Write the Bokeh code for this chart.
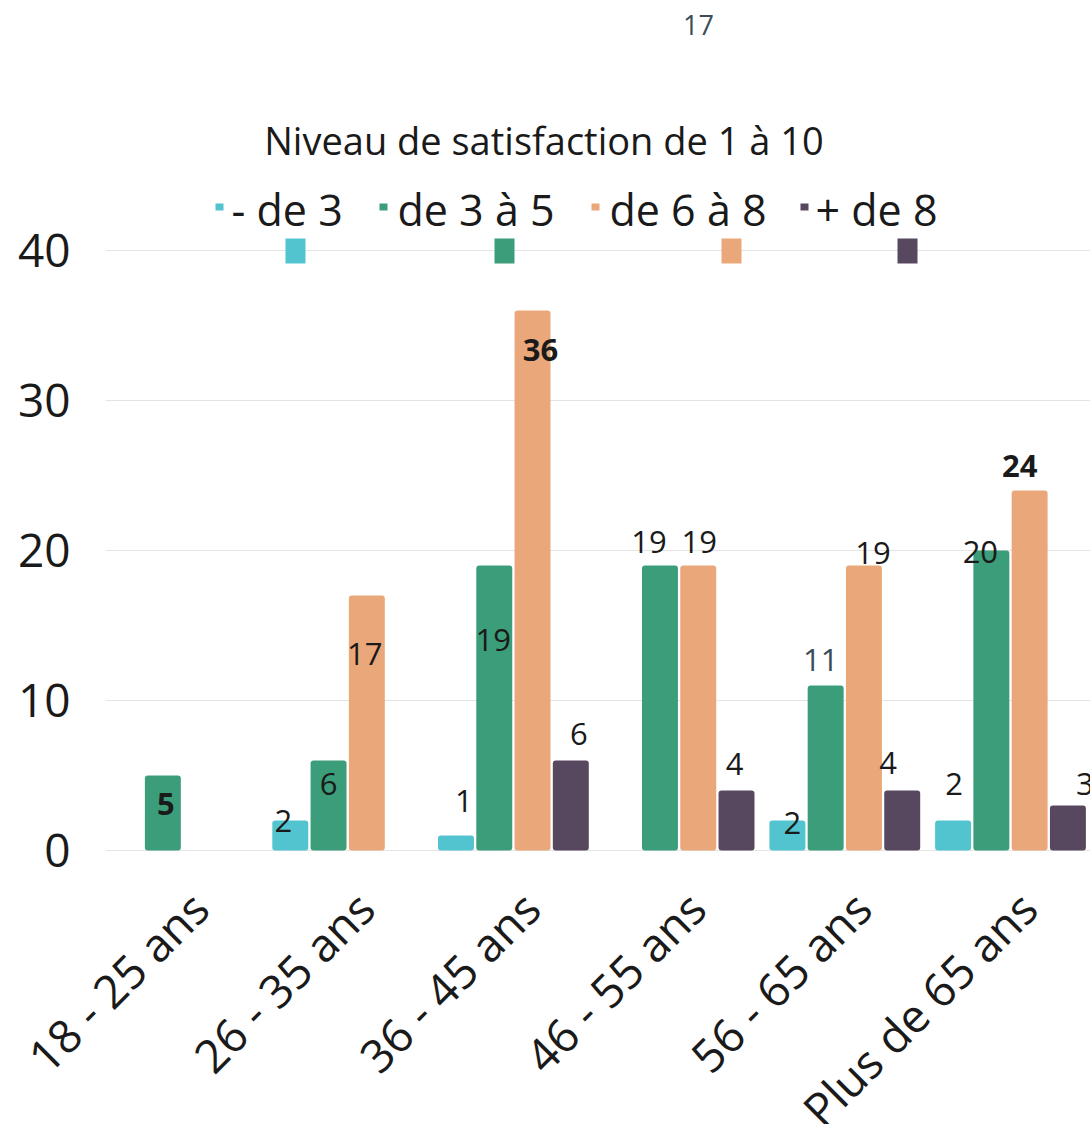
import math
import numpy as np
from bokeh.plotting import figure
from bokeh.models import ColumnDataSource, FixedTicker, Range1d
from bokeh.core.properties import value
from bokeh.embed import file_html
from bokeh.resources import INLINE

# ---------------- data ----------------
categories = ["18 - 25 ans", "26 - 35 ans", "36 - 45 ans", "46 - 55 ans", "56 - 65 ans", "Plus de 65 ans"]
series_names = ["- de 3", "de 3 à 5", "de 6 à 8", "+ de 8"]
moins_de_3 = [0, 2, 1, 0, 2, 2]
de_3_a_5 = [5, 6, 19, 19, 11, 20]
de_6_a_8 = [0, 17, 36, 19, 19, 24]
plus_de_8 = [0, 0, 6, 4, 4, 3]
legend_title = "Niveau de satisfaction de 1 à 10"
y_ticks = [0, 10, 20, 30, 40]
stray_label = "17"

series = [moins_de_3, de_3_a_5, de_6_a_8, plus_de_8]

# ---------------- style / layout ----------------
colors = ["#52c4cf", "#3b9d79", "#eaa87a", "#57475f"]
FONT = "Open Sans"
slot = 0.231          # distance between bars in a group (category units)
bar_w = 0.217

# label offsets in screen pixels (dx right, dy down), per series
label_dx = [[0, -7, 8, 0, 5, 1],
            [3, 0, -1, -11, -5, -11],
            [0, -2, 8, 1, 9, -10],
            [0, 0, 8, -2, -14, 17]]
label_dy = [[0, 0, -35, 0, 2, -37],
            [28, 23, 74, -24, -26, 1],
            [0, 58, 39, -24, -13, -25],
            [0, 0, -27, -27, -28, -22]]
bold = [[0, 0, 0, 0, 0, 0],
        [1, 0, 0, 0, 0, 0],
        [0, 0, 1, 0, 0, 1],
        [0, 0, 0, 0, 0, 0]]
label_color = [["#1a1a1a"] * 6,
               ["#1a1a1a", "#1a1a1a", "#1a1a1a", "#1a1a1a", "#3b4d5a", "#1a1a1a"],
               ["#1a1a1a"] * 6,
               ["#1a1a1a"] * 6]

W, H = 1090, 1124
# page-pixel helpers for layout (page px -> data)
X0_PX, X_SCALE = 181.5, 165.7
Y0_PX, Y_SCALE = 850.0, 15.0
def px_x(px):
    return (px - X0_PX) / X_SCALE + 0.5
def px_y(py):
    return (Y0_PX - py) / Y_SCALE

p = figure(width=W, height=H,
           x_range=Range1d(px_x(0), px_x(W)),
           y_range=Range1d(px_y(H), px_y(0)),
           output_backend="svg", toolbar_location=None,
           x_axis_location=None, y_axis_location=None,
           min_border_left=0, min_border_right=0, min_border_top=0,
           min_border_bottom=0)
p.outline_line_color = None
p.background_fill_color = "white"
p.border_fill_color = "white"

# horizontal grid at the value ticks; the value-label margin is kept clear
p.xgrid.grid_line_color = None
p.ygrid.ticker = FixedTicker(ticks=y_ticks)
p.ygrid.grid_line_color = "#e4e4e4"
p.ygrid.grid_line_width = 1
p.quad(left=px_x(0), right=px_x(105), bottom=px_y(H), top=px_y(0),
       fill_color="white", line_color=None)

# value-axis labels
p.text(x=[px_x(70)] * len(y_ticks), y=y_ticks, text=[str(t) for t in y_ticks],
       text_font=value(FONT), text_font_size="46px", text_color="#1a1a1a",
       text_align="right", text_baseline="middle")

centers = np.arange(len(categories)) + 0.5

# bars
for i, vals in enumerate(series):
    xs = centers + (i - 1.5) * slot
    src = ColumnDataSource(dict(x=xs, top=vals))
    p.vbar(x="x", top="top", bottom=0, width=bar_w, source=src,
           fill_color=colors[i], line_color=None, border_radius=3)

# value labels
lx, ly, lt, ldx, ldy, lfs, lcol = [], [], [], [], [], [], []
for i, vals in enumerate(series):
    for j, v in enumerate(vals):
        if v > 0:
            lx.append(centers[j] + (i - 1.5) * slot)
            ly.append(v)
            lt.append(str(v))
            ldx.append(label_dx[i][j])
            ldy.append(label_dy[i][j])
            lfs.append("bold" if bold[i][j] else "normal")
            lcol.append(label_color[i][j])
lsrc = ColumnDataSource(dict(x=lx, y=ly, text=lt, dx=ldx, dy=ldy, fs=lfs, col=lcol))
p.text(x="x", y="y", text="text", x_offset="dx", y_offset="dy", source=lsrc,
       text_font=value(FONT), text_font_size="31px", text_font_style="fs",
       text_color="col", text_align="center", text_baseline="middle")

# stray label at the top
p.text(x=[px_x(698)], y=[px_y(24)], text=[stray_label], text_font=value(FONT),
       text_font_size="27px", text_color="#3b4d5a", text_align="center",
       text_baseline="middle")

# legend title
p.text(x=[px_x(543.5)], y=[px_y(139)], text=[legend_title], text_font=value(FONT),
       text_font_size="38px", text_color="#1a1a1a", text_align="center",
       text_baseline="middle")

# legend items
marker_px = [219, 383, 595, 804]
text_px = [231, 397, 609, 815]
p.rect(x=[px_x(v) for v in marker_px], y=[px_y(206.5)] * 4, width=8, height=7,
       width_units="screen", height_units="screen", fill_color=colors, line_color=None)
p.text(x=[px_x(v) for v in text_px], y=[px_y(209)] * 4, text=series_names,
       text_font=value(FONT), text_font_size="43px", text_color="#1a1a1a",
       text_align="left", text_baseline="middle")
square_px = [295, 504, 731, 907]
p.rect(x=[px_x(v) for v in square_px], y=[px_y(250.5)] * 4, width=20, height=25,
       width_units="screen", height_units="screen", fill_color=colors, line_color=None)

# category labels (rotated) under each group
p.text(x=list(centers), y=[px_y(899)] * len(categories), text=categories,
       x_offset=17.5, angle=math.pi / 4, text_font=value(FONT), text_font_size="46px",
       text_color="#1a1a1a", text_align="right", text_baseline="middle")

open("out.html", "w").write(file_html(p, INLINE))
